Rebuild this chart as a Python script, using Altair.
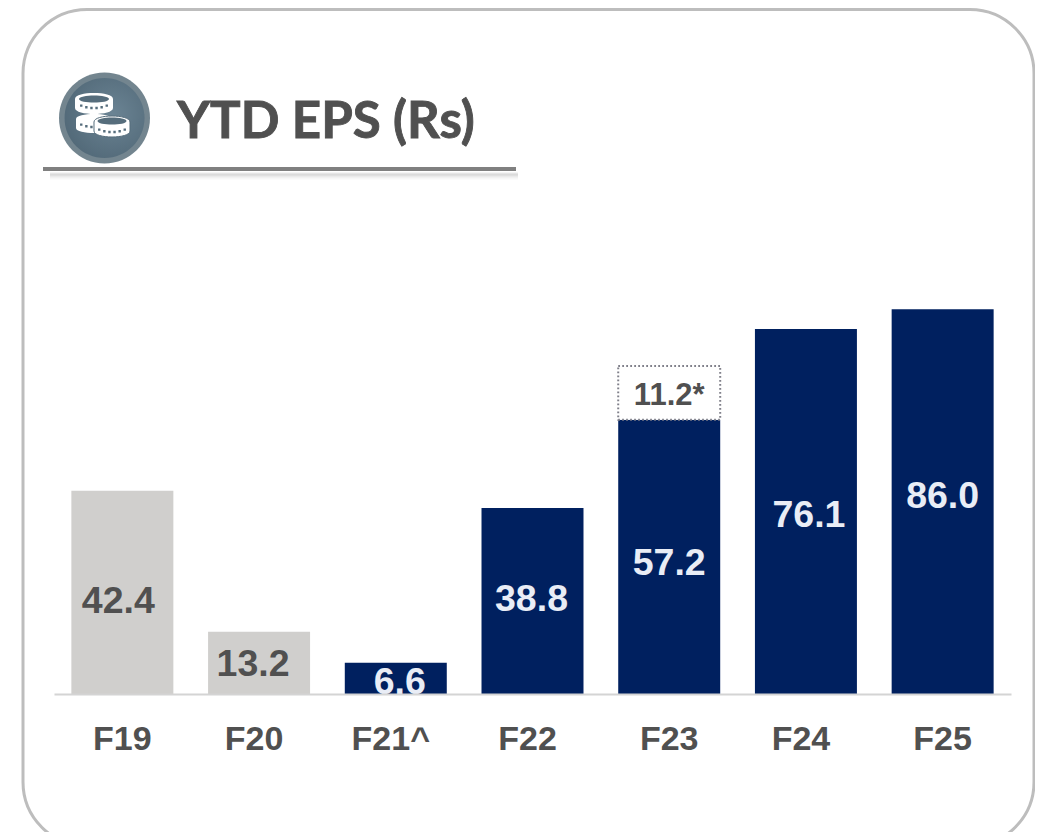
import altair as alt
import pandas as pd

# ---- data ----
years = ["F19", "F20", "F21^", "F22", "F23", "F24", "F25"]
drawn_heights = [42.4, 13.0, 6.5, 38.8, 57.2, 76.1, 80.2]  # F25's bar is drawn shorter than its label says
value_labels = ["42.4", "13.2", "6.6", "38.8", "57.2", "76.1", "86.0"]
periods = ["past", "past", "now", "now", "now", "now", "now"]
extra_year = ["F23"]
extra_start = [57.2]
extra_end = [68.4]
extra_label = ["11.2*"]
heading = ["YTD EPS (Rs)"]

# ---- style ----
NAVY, GREY, INK, PALE = "#00205f", "#d0cfcd", "#505050", "#e9edf6"
label_nudge = [(-4, 10), (-6, 2), (4, 5), (-1, -1), (0, 7), (3, 4), (0, -5)]
FONT = "Liberation Sans"
W, H = 957, 494
LEFT, TOP = 46, 192

df = pd.DataFrame({"year": years, "h": drawn_heights, "label": value_labels, "period": periods})
df["mid"] = df["h"] / 2
extra = pd.DataFrame({"year": extra_year, "a": extra_start, "b": extra_end, "label": extra_label})
extra["mid"] = (extra["a"] + extra["b"]) / 2
one = pd.DataFrame({"k": [0]})
head = pd.DataFrame({"t": heading})

x = alt.X("year:N", sort=years, title=None,
          scale=alt.Scale(paddingInner=0.254, paddingOuter=0.127),
          axis=alt.Axis(domainColor="#d4d4d4", domainWidth=2, ticks=False, labelAngle=0,
                        labelFont=FONT, labelFontWeight="bold", labelFontSize=34,
                        labelColor=INK, labelPadding=28, grid=False, zindex=1,
                        labelBaseline="top",
                        labelOffset=alt.expr("datum.label === 'F19' || datum.label === 'F23' || datum.label === 'F25' ? 0 : -5")))
yscale = alt.Scale(domain=[0, 103], nice=False, zero=True)
y = alt.Y("h:Q", scale=yscale, axis=None)


def px(v):
    return alt.value(v - 54)


def py(v):
    return alt.value(v - 200)


frame = alt.Chart(one).mark_rect(cornerRadius=64, fillOpacity=0, stroke="#bdbdbd", strokeWidth=3).encode(
    x=px(23), x2=px(1034), y=py(9.5), y2=py(846))

title = alt.Chart(head).mark_text(font="Lato", fontWeight="bold", fontSize=51, color=INK,
                                  stroke=INK, strokeWidth=0.9,
                                  align="left", baseline="alphabetic").encode(
    x=px(177), y=py(138), text="t:N")

# title rule and its soft shadow
shadows = [
    alt.Chart(one).mark_rule(color="#000000", opacity=op, strokeWidth=sw).encode(
        x=px(50), x2=px(518), y=py(yy))
    for yy, sw, op in [(177, 5, 0.03), (175.5, 4, 0.05), (174, 3, 0.08)]
]
rule = alt.Chart(one).mark_rule(color="#808080", strokeWidth=4).encode(x=px(43), x2=px(516), y=py(169))

# coin badge
CX, CY, R = 104.5, 118, 46


def f(a, b):
    return f"{(a - CX) / R:.4f} {(b - CY) / R:.4f}"


def coin_body(cx, cy, rx, ry, t):
    return (f"M{f(cx - rx, cy)}"
            f"C{f(cx - rx, cy - ry * 1.33)} {f(cx + rx, cy - ry * 1.33)} {f(cx + rx, cy)}"
            f"L{f(cx + rx, cy + t)}"
            f"C{f(cx + rx, cy + t + ry * 1.33)} {f(cx - rx, cy + t + ry * 1.33)} {f(cx - rx, cy + t)}Z")


def ellipse(cx, cy, rx, ry):
    return (f"M{f(cx - rx, cy)}"
            f"C{f(cx - rx, cy - ry * 1.33)} {f(cx + rx, cy - ry * 1.33)} {f(cx + rx, cy)}"
            f"C{f(cx + rx, cy + ry * 1.33)} {f(cx - rx, cy + ry * 1.33)} {f(cx - rx, cy)}Z")


def disc(cx, cy, r):
    k = 0.5523 * r
    return (f"M{f(cx - r, cy)}"
            f"C{f(cx - r, cy - k)} {f(cx - k, cy - r)} {f(cx, cy - r)}"
            f"C{f(cx + k, cy - r)} {f(cx + r, cy - k)} {f(cx + r, cy)}"
            f"C{f(cx + r, cy + k)} {f(cx + k, cy + r)} {f(cx, cy + r)}"
            f"C{f(cx - k, cy + r)} {f(cx - r, cy + k)} {f(cx - r, cy)}Z")


def dots(cx, cy, rx, ry, n=6):
    out = ""
    for i in range(n):
        t = -0.85 + 1.7 * i / (n - 1)
        dxp = t * rx
        dyp = cy + ry * (1 - t * t) ** 0.5
        s = 1.2
        out += (f"M{f(cx + dxp - s, dyp - s)}L{f(cx + dxp + s, dyp - s)}"
                f"L{f(cx + dxp + s, dyp + s)}L{f(cx + dxp - s, dyp + s)}Z")
    return out


def glyph(path, fill, stroke=None, sw=0):
    kw = dict(shape=path, size=(2 * R) ** 2, filled=True, fill=fill, opacity=1)
    if stroke:
        kw.update(stroke=stroke, strokeWidth=sw)
    else:
        kw.update(strokeWidth=0)
    return alt.Chart(one).mark_point(**kw).encode(x=px(CX), y=py(CY))


badge_fill = alt.RadialGradient(gradient="radial", r1=0, r2=0.7, x1=0.6, y1=0.45, x2=0.6, y2=0.45,
                                stops=[alt.GradientStop(color="#6b8494", offset=0),
                                       alt.GradientStop(color="#4f6675", offset=1)])
BADGE_BG = "#566d7c"
badge = [
    glyph(disc(CX, CY, 45.5), "#73858f"),
    glyph(disc(CX, CY, 40), badge_fill),
    glyph(coin_body(94, 119, 18, 5, 9), "#ffffff"),
    glyph(dots(94, 122, 15, 5), BADGE_BG),
    glyph(coin_body(94, 99, 19, 6, 9), "#ffffff"),
    glyph(ellipse(94, 99, 15, 3.6), BADGE_BG),
    glyph(dots(94, 103, 15, 5), BADGE_BG),
    glyph(coin_body(112, 122, 18, 6, 9), "#ffffff", BADGE_BG, 1),
    glyph(ellipse(112, 121, 14.5, 3.6), BADGE_BG),
    glyph(dots(112, 127, 15, 5), BADGE_BG),
]

bars = alt.Chart(df).mark_bar().encode(
    x=x, y=y,
    color=alt.Color("period:N", legend=None,
                    scale=alt.Scale(domain=["past", "now"], range=[GREY, NAVY])))

extra_box = alt.Chart(extra).mark_bar(fill="#ffffff", stroke="#80808a", strokeWidth=2,
                                      strokeDash=[1.8, 2.2]).encode(
    x=alt.X("year:N", sort=years, title=None),
    y=alt.Y("a:Q", scale=yscale, axis=None), y2="b:Q")

value_texts = []
for i, (dx, dy) in enumerate(label_nudge):
    value_texts.append(
        alt.Chart(df.iloc[[i]]).mark_text(
            font=FONT, fontWeight="bold", fontSize=37.5, dx=dx, dy=dy, baseline="middle",
            color=INK if periods[i] == "past" else PALE).encode(
            x=alt.X("year:N", sort=years, title=None),
            y=alt.Y("mid:Q", scale=yscale, axis=None),
            text="label:N"))

extra_text = alt.Chart(extra).mark_text(
    font=FONT, fontWeight="bold", fontSize=31, color=INK, baseline="middle", dy=3).encode(
    x=alt.X("year:N", sort=years, title=None),
    y=alt.Y("mid:Q", scale=yscale, axis=None),
    text="label:N")

chart = alt.layer(
    frame, title, *shadows, rule, *badge, bars, extra_box, *value_texts, extra_text
).properties(
    width=W, height=H,
    autosize=alt.AutoSizeParams(type="none"),
    padding={"left": LEFT, "top": TOP, "right": 24, "bottom": 138},
    background="#ffffff",
).configure_view(strokeWidth=0, stroke="transparent")

chart.save("out.html", embed_options={"renderer": "svg", "actions": False})
